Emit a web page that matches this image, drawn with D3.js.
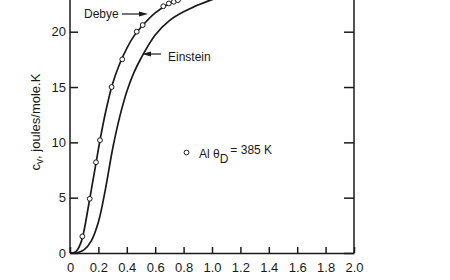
<!DOCTYPE html>
<html>
<head>
<meta charset="utf-8">
<script src="https://cdn.jsdelivr.net/npm/d3@7"></script>
<style>
  body { margin: 0; background: #fff; }
  text { font-family: "Liberation Sans", Arial, sans-serif; fill: #1a1a1a; }
</style>
</head>
<body>
<div id="chart"></div>
<script>
// Data --------------------------------------------------------------------------------------------------------------
const xTicks = [0, 0.2, 0.4, 0.6, 0.8, 1.0, 1.2, 1.4, 1.6, 1.8, 2.0];
const yTicks = [0, 5, 10, 15, 20];

// Debye curve (T / theta_D, cv)
const debyeT  = [0, 0.03, 0.05, 0.08, 0.1, 0.12, 0.15, 0.18, 0.21, 0.25, 0.3, 0.35, 0.4, 0.45, 0.5, 0.6, 0.7, 0.8, 1.0, 1.5, 2.0];
const debyeCv = [0, 0.05, 0.25, 1.05, 2.1, 3.5, 5.7, 7.9, 10.1, 12.7, 15.3, 17.1, 18.5, 19.6, 20.4, 21.7, 22.55, 23.05, 23.7, 24.4, 24.7];

// Einstein curve
const einsteinT  = [0, 0.05, 0.1, 0.15, 0.2, 0.25, 0.3, 0.35, 0.4, 0.45, 0.5, 0.6, 0.7, 0.8, 1.0, 1.2, 1.5, 2.0];
const einsteinCv = [0, 0.02, 0.3, 1.1, 2.8, 5.8, 9.4, 12.3, 14.6, 16.3, 17.6, 19.7, 21.0, 21.8, 22.9, 23.5, 24.0, 24.5];

// Al measurements (open circles)
const alT  = [0.087, 0.139, 0.183, 0.211, 0.293, 0.368, 0.47, 0.512, 0.657, 0.696, 0.731, 0.76];
const alCv = [1.5, 4.9, 8.2, 10.2, 15.0, 17.5, 20.0, 20.6, 22.3, 22.55, 22.7, 22.85];

// Canvas ------------------------------------------------------------------------------------------------------------
const canvasWidth = 450;
const canvasHeight = 280;
const plotLeft = 70;
const plotRight = 354;
const plotBottom = 253;
const plotTop = 0;

const svg = d3.select("#chart")
  .append("svg")
  .attr("width", canvasWidth)
  .attr("height", canvasHeight);

const xScale = d3.scaleLinear().domain([0, 2]).range([plotLeft, plotRight]);
const yScale = d3.scaleLinear().domain([0, 20]).range([plotBottom, 31.7]);

svg.append("clipPath")
  .attr("id", "plot-clip")
  .append("rect")
  .attr("x", plotLeft)
  .attr("y", plotTop)
  .attr("width", plotRight - plotLeft)
  .attr("height", plotBottom - plotTop);

// Axes --------------------------------------------------------------------------------------------------------------
const tickFont = 13;

const xAxis = svg.append("g")
  .attr("transform", "translate(0," + plotBottom + ")")
  .call(d3.axisBottom(xScale).tickValues(xTicks).tickSizeInner(-6).tickSizeOuter(0)
    .tickFormat(d => d === 0 ? "0" : d3.format(".1f")(d)));
xAxis.selectAll("text").attr("y", 10).style("font-size", tickFont);

const yAxis = svg.append("g")
  .attr("transform", "translate(" + plotLeft + ",0)")
  .call(d3.axisLeft(yScale).tickValues(yTicks).tickSizeInner(-8).tickSizeOuter(0));
yAxis.selectAll("text").attr("x", -4).style("font-size", tickFont);
yAxis.select(".domain").remove();

const yAxisRight = svg.append("g")
  .attr("transform", "translate(" + plotRight + ",0)")
  .call(d3.axisRight(yScale).tickValues(yTicks).tickSizeInner(-10).tickSizeOuter(0).tickFormat(""));
yAxisRight.select(".domain").remove();

svg.selectAll(".domain, .tick line")
  .attr("stroke", "#1a1a1a")
  .attr("stroke-width", 1.5);

// full-height vertical frame lines
[plotLeft, plotRight].forEach(x => {
  svg.append("line")
    .attr("x1", x).attr("x2", x)
    .attr("y1", plotTop).attr("y2", plotBottom)
    .attr("stroke", "#1a1a1a")
    .attr("stroke-width", 1.5);
});

// Y title
const yTitle = svg.append("text")
  .attr("transform", "translate(40,122) rotate(-90)")
  .style("text-anchor", "middle")
  .style("font-size", 13);
yTitle.append("tspan").text("c");
yTitle.append("tspan").attr("dy", 3).style("font-size", 10).text("v");
yTitle.append("tspan").attr("dy", -3).text(", joules/mole.K");

// Curves ------------------------------------------------------------------------------------------------------------
const line = d3.line()
  .x(d => xScale(d[0]))
  .y(d => yScale(d[1]))
  .curve(d3.curveCatmullRom.alpha(0.5));

const plot = svg.append("g").attr("clip-path", "url(#plot-clip)");

plot.append("path")
  .datum(debyeT.map((t, i) => [t, debyeCv[i]]))
  .attr("d", line)
  .attr("fill", "none")
  .attr("stroke", "#1a1a1a")
  .attr("stroke-width", 1.7);

plot.append("path")
  .datum(einsteinT.map((t, i) => [t, einsteinCv[i]]))
  .attr("d", line)
  .attr("fill", "none")
  .attr("stroke", "#1a1a1a")
  .attr("stroke-width", 1.7);

plot.selectAll("circle.al")
  .data(alT.map((t, i) => [t, alCv[i]]))
  .join("circle")
  .attr("class", "al")
  .attr("cx", d => xScale(d[0]))
  .attr("cy", d => yScale(d[1]))
  .attr("r", 2.4)
  .attr("fill", "#fff")
  .attr("stroke", "#1a1a1a")
  .attr("stroke-width", 1);

// Labels with arrows ------------------------------------------------------------------------------------------------
const drawArrow = function(x1, x2, y) {
  const dir = Math.sign(x2 - x1);
  svg.append("line")
    .attr("x1", x1).attr("x2", x2 - dir * 6)
    .attr("y1", y).attr("y2", y)
    .attr("stroke", "#1a1a1a")
    .attr("stroke-width", 1.2);
  svg.append("path")
    .attr("d", "M" + x2 + "," + y + " L" + (x2 - dir * 9) + "," + (y - 2.6) + " L" + (x2 - dir * 9) + "," + (y + 2.6) + " Z")
    .attr("fill", "#1a1a1a");
};

svg.append("text").attr("x", 84).attr("y", 18).style("font-size", 12).text("Debye");
drawArrow(122, 148, 14);

svg.append("text").attr("x", 168).attr("y", 61).style("font-size", 12).text("Einstein");
drawArrow(161, 142, 54);

// Legend
svg.append("circle")
  .attr("cx", 186.5).attr("cy", 152.5).attr("r", 2.4)
  .attr("fill", "#fff").attr("stroke", "#1a1a1a").attr("stroke-width", 1);
const legend = svg.append("text").attr("x", 199).attr("y", 158).style("font-size", 12);
legend.append("tspan").text("Al  θ");
legend.append("tspan").attr("dy", 5).style("font-size", 12).text("D");
legend.append("tspan").attr("dy", -9).attr("dx", 2).text("= 385 K");
</script>
</body>
</html>
